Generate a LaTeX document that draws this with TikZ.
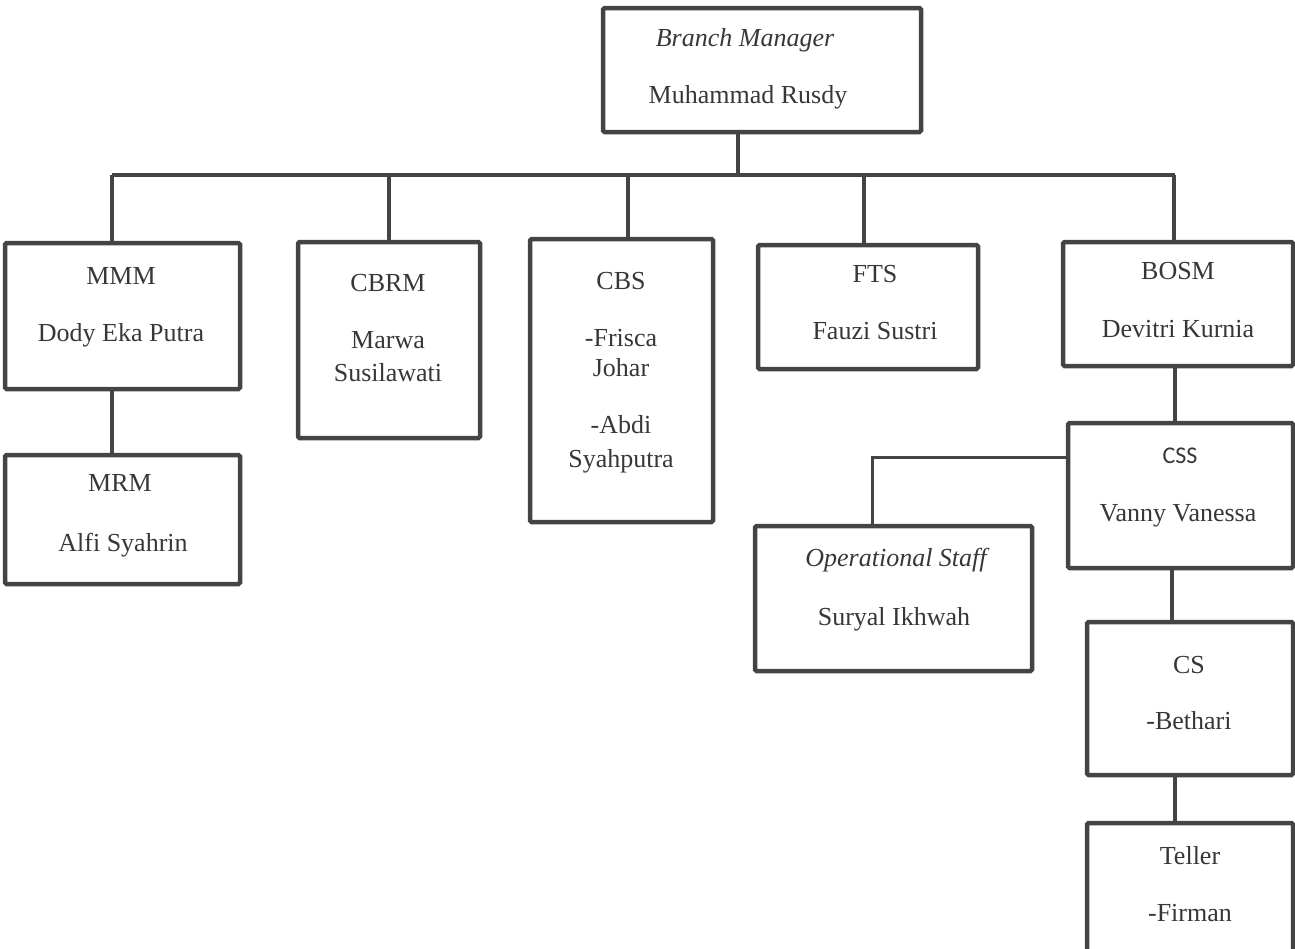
\documentclass[tikz,border=0pt]{standalone}
\usepackage{fontspec}
\setmainfont{Liberation Serif}
\newfontfamily\carlito{Carlito}
\definecolor{linegray}{RGB}{68,68,68}
\definecolor{txtgray}{RGB}{55,55,55}
\begin{document}
\begin{tikzpicture}[x=1pt,y=-1pt,
  box/.style={draw=linegray, line width=4.5pt, rounded corners=1.5pt, inner sep=0pt},
  conn/.style={draw=linegray, line width=4pt},
  thinconn/.style={draw=linegray, line width=3pt},
  lbl/.style={text=txtgray, font=\fontsize{26}{30}\selectfont, inner sep=0pt, anchor=center, text height=17pt, text depth=0pt}]
\useasboundingbox (0,0) rectangle (1295,948);

% boxes
\node[box, minimum width=318pt, minimum height=124pt] (bm) at (762,70) {};
\node[box, minimum width=235pt, minimum height=146pt] (mmm) at (122.5,316) {};
\node[box, minimum width=235pt, minimum height=129pt] (mrm) at (122.5,519.5) {};
\node[box, minimum width=182pt, minimum height=196pt] (cbrm) at (389,340) {};
\node[box, minimum width=183pt, minimum height=283pt] (cbs) at (621.5,380.5) {};
\node[box, minimum width=220pt, minimum height=124pt] (fts) at (868,307) {};
\node[box, minimum width=230pt, minimum height=124pt] (bosm) at (1178,304) {};
\node[box, minimum width=225pt, minimum height=145pt] (css) at (1180.5,495.5) {};
\node[box, minimum width=277pt, minimum height=145pt] (staff) at (893.5,598.5) {};
\node[box, minimum width=206pt, minimum height=153pt] (cs) at (1190,698.5) {};
\node[box, minimum width=206pt, minimum height=139pt] (teller) at (1190,892.5) {};

% labels
\node[lbl] (bm1) at (745,38) {\itshape Branch Manager};
\node[lbl] (bm2) at (748,95) {Muhammad Rusdy};
\node[lbl] (mmm1) at (121,276) {MMM};
\node[lbl] (mmm2) at (121,333) {Dody Eka Putra};
\node[lbl] (mrm1) at (120,483) {MRM};
\node[lbl] (mrm2) at (123,543) {Alfi Syahrin};
\node[lbl] (cbrm1) at (388,283) {CBRM};
\node[lbl] (cbrm2) at (388,340) {Marwa};
\node[lbl] (cbrm3) at (388,373) {Susilawati};
\node[lbl] (cbs1) at (621,281) {CBS};
\node[lbl] (cbs2) at (621,338) {-Frisca};
\node[lbl] (cbs3) at (621,368) {Johar};
\node[lbl] (cbs4) at (621,425) {-Abdi};
\node[lbl] (cbs5) at (621,459) {Syahputra};
\node[lbl] (fts1) at (875,274) {FTS};
\node[lbl] (fts2) at (875,331) {Fauzi Sustri};
\node[lbl] (bosm1) at (1178,271) {BOSM};
\node[lbl] (bosm2) at (1178,329) {Devitri Kurnia};
\node[lbl, font=\carlito\fontsize{24}{28}\selectfont] (css1) at (1180,455) {CSS};
\node[lbl] (css2) at (1178,513) {Vanny Vanessa};
\node[lbl] (staff1) at (896,558) {\itshape Operational Staff};
\node[lbl] (staff2) at (894,617) {Suryal Ikhwah};
\node[lbl] (cs1) at (1189,665) {CS};
\node[lbl] (cs2) at (1189,721) {-Bethari};
\node[lbl] (tel1) at (1190,856) {Teller};
\node[lbl] (tel2) at (1190,913) {-Firman};

% connectors
\coordinate (busL) at (112,175);
\coordinate (busR) at (1175,175);
\draw[conn] (busL) -- (busR);
\draw[conn] ([xshift=-24pt]bm.south) -- ([xshift=-24pt]bm.south |- busL);
\draw[conn] (busL) -- ([xshift=-10.5pt]mmm.north);
\draw[conn] (cbrm.north |- busL) -- (cbrm.north);
\draw[conn] ([xshift=6.5pt]cbs.north |- busL) -- ([xshift=6.5pt]cbs.north);
\draw[conn] ([xshift=-4pt]fts.north |- busL) -- ([xshift=-4pt]fts.north);
\draw[conn] ([xshift=-4pt]bosm.north |- busL) -- ([xshift=-4pt]bosm.north);
\draw[conn] ([xshift=-10.5pt]mmm.south) -- ([xshift=-10.5pt]mrm.north);
\draw[conn] ([xshift=-3pt]bosm.south) -- ([xshift=-3pt]bosm.south |- css.north);
\draw[thinconn] ([yshift=38.5pt]css.west) -| ([xshift=-21.5pt]staff.north);
\draw[conn] ([xshift=-8.5pt]css.south) -- ([xshift=-8.5pt]css.south |- cs.north);
\draw[conn] ([xshift=-15pt]cs.south) -- ([xshift=-15pt]cs.south |- teller.north);
\end{tikzpicture}
\end{document}
